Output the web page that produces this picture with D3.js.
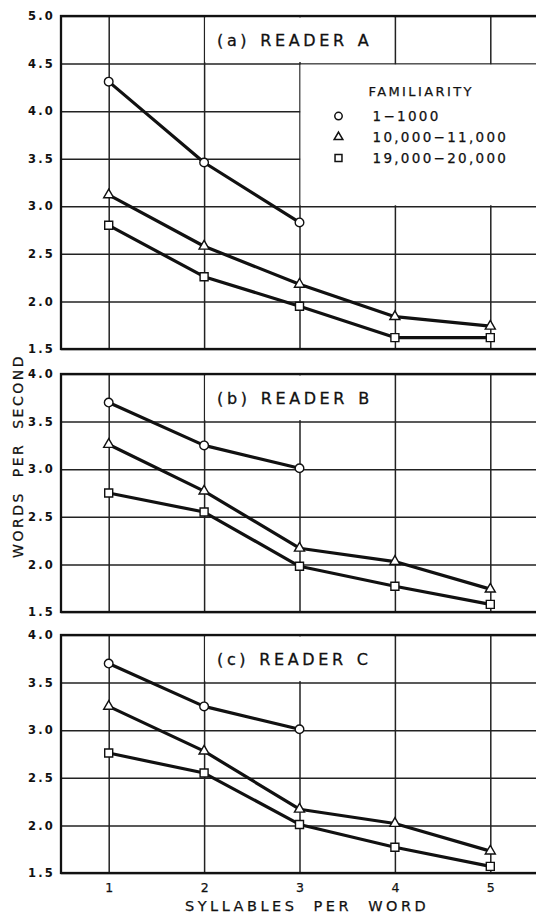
<!DOCTYPE html>
<html>
<head>
<meta charset="utf-8">
<script src="https://cdn.jsdelivr.net/npm/d3@7"></script>
<style>
  body { margin: 0; background: #fff; }
  svg { display: block; }
  text { font-family: "DejaVu Sans", sans-serif; fill: #111; }
</style>
</head>
<body>
<div id="chart"></div>
<script>
// words per second, by syllables per word, three familiarity groups
var syllables = [1, 2, 3, 4, 5];
var familiarity = ["1\u22121000", "10,000\u221211,000", "19,000\u221220,000"];

var aLow = [4.31, 3.46, 2.83];
var aMid = [3.12, 2.58, 2.18, 1.84, 1.74];
var aHigh = [2.80, 2.26, 1.95, 1.62, 1.62];

var bLow = [3.70, 3.25, 3.01];
var bMid = [3.26, 2.77, 2.17, 2.03, 1.74];
var bHigh = [2.75, 2.55, 1.98, 1.77, 1.58];

var cLow = [3.70, 3.25, 3.01];
var cMid = [3.25, 2.78, 2.17, 2.02, 1.73];
var cHigh = [2.76, 2.55, 2.01, 1.77, 1.57];

var ticksA = [1.5, 2.0, 2.5, 3.0, 3.5, 4.0, 4.5, 5.0];
var ticksBC = [1.5, 2.0, 2.5, 3.0, 3.5, 4.0];

var W = 536, H = 913;
var svg = d3.select("#chart").append("svg")
  .attr("width", W).attr("height", H);

var x = d3.scaleLinear().domain([0.5, 5.5]).range([61, 538]);

var symbols = [d3.symbolCircle, d3.symbolTriangle, d3.symbolSquare];
var symSize = [58, 44, 64];

var panels = [
  {title: "(a) READER A", ticks: ticksA, series: [aLow, aMid, aHigh], top: 16, bottom: 349, legend: true},
  {title: "(b) READER B", ticks: ticksBC, series: [bLow, bMid, bHigh], top: 374, bottom: 612},
  {title: "(c) READER C", ticks: ticksBC, series: [cLow, cMid, cHigh], top: 635, bottom: 873, xaxis: true}
];

var line = d3.line()
  .x(function(d, i) { return x(syllables[i]); });

panels.forEach(function(p) {
  var ymax = d3.max(p.ticks), ymin = d3.min(p.ticks);
  var y = d3.scaleLinear().domain([ymin, ymax]).range([p.bottom, p.top]);
  var g = svg.append("g");

  // horizontal grid + tick labels
  var yAxis = g.append("g")
    .attr("transform", "translate(" + x(0.5) + ",0)")
    .call(d3.axisLeft(y).tickValues(p.ticks).tickSize(-(x(5.5) - x(0.5)))
      .tickPadding(6).tickFormat(d3.format(".1f")));
  yAxis.select(".domain").remove();
  yAxis.selectAll("line").attr("stroke", "#222").attr("stroke-width", 1.5);
  yAxis.selectAll("text")
    .style("font-size", "11.5px").style("font-weight", "bold")
    .style("letter-spacing", "2.2px").attr("fill", "#111");

  // vertical grid
  var xGrid = g.append("g")
    .attr("transform", "translate(0," + p.bottom + ")")
    .call(d3.axisBottom(x).tickValues(syllables).tickSize(-(p.bottom - p.top)).tickFormat(""));
  xGrid.select(".domain").remove();
  xGrid.selectAll("line").attr("stroke", "#222").attr("stroke-width", 1.5);

  // title box in the top row, between 2 and 4 syllables
  var rowTop = y(ymax), rowBot = y(ymax - 0.5);
  g.append("rect")
    .attr("x", x(2) + 1).attr("y", rowTop + 1.5)
    .attr("width", x(4) - x(2) - 2).attr("height", rowBot - rowTop - 3)
    .attr("fill", "#fff");
  g.append("text")
    .attr("x", x(2) + 13).attr("y", (rowTop + rowBot) / 2 + 6)
    .style("font-size", "16px").style("letter-spacing", "3.6px")
    .style("word-spacing", "1.5px")
    .attr("stroke", "#111").attr("stroke-width", 0.3)
    .text(p.title);

  // legend box
  if (p.legend) {
    var lx = x(3), ly = y(4.5), lb = y(3.0);
    g.append("rect")
      .attr("x", lx + 1).attr("y", ly + 1)
      .attr("width", W - lx).attr("height", lb - ly - 2)
      .attr("fill", "#fff");
    g.append("text")
      .attr("x", lx + 69).attr("y", ly + 32)
      .style("font-size", "13px").style("letter-spacing", "2.4px")
      .attr("stroke", "#111").attr("stroke-width", 0.25)
      .text("FAMILIARITY");
    familiarity.forEach(function(name, i) {
      var ry = ly + 52.5 + i * 21;
      g.append("path")
        .attr("d", d3.symbol().type(symbols[i]).size(symSize[i] * 0.75)())
        .attr("transform", "translate(" + (lx + 39) + "," + ry + ")")
        .attr("fill", "#fff").attr("stroke", "#111").attr("stroke-width", 1.5);
      g.append("text")
        .attr("x", lx + 73).attr("y", ry + 4.5)
        .style("font-size", "13.5px").style("letter-spacing", "2.3px")
        .attr("stroke", "#111").attr("stroke-width", 0.25)
        .text(name);
    });
  }

  // outer frame
  g.append("rect")
    .attr("x", x(0.5)).attr("y", p.top)
    .attr("width", x(5.5) - x(0.5)).attr("height", p.bottom - p.top)
    .attr("fill", "none").attr("stroke", "#111").attr("stroke-width", 2.3);

  // series lines
  p.series.forEach(function(vals) {
    g.append("path")
      .attr("d", line.y(function(d) { return y(d); })(vals))
      .attr("fill", "none").attr("stroke", "#111").attr("stroke-width", 3.2)
      .attr("stroke-linejoin", "round");
  });
  // markers on top
  p.series.forEach(function(vals, si) {
    g.selectAll(null).data(vals).enter().append("path")
      .attr("d", d3.symbol().type(symbols[si]).size(symSize[si])())
      .attr("transform", function(d, i) { return "translate(" + x(syllables[i]) + "," + y(d) + ")"; })
      .attr("fill", "#fff").attr("stroke", "#111").attr("stroke-width", 1.4);
  });

  if (p.xaxis) {
    var xa = g.append("g")
      .attr("transform", "translate(0," + p.bottom + ")")
      .call(d3.axisBottom(x).tickValues(syllables).tickSize(0).tickPadding(10).tickFormat(d3.format("d")));
    xa.select(".domain").remove();
    xa.selectAll("text").style("font-size", "12.5px").attr("fill", "#111")
      .attr("stroke", "#111").attr("stroke-width", 0.25);
  }
});

svg.append("text")
  .attr("x", 185).attr("y", 911)
  .style("font-size", "14.5px").style("letter-spacing", "3.5px")
  .style("white-space", "pre")
  .attr("stroke", "#111").attr("stroke-width", 0.25)
  .text("SYLLABLES  PER  WORD");

svg.append("text")
  .attr("transform", "translate(23,456) rotate(-90)")
  .attr("text-anchor", "middle")
  .style("font-size", "14px").style("letter-spacing", "2.5px")
  .style("white-space", "pre")
  .attr("stroke", "#111").attr("stroke-width", 0.25)
  .text("WORDS  PER  SECOND");
</script>
</body>
</html>
